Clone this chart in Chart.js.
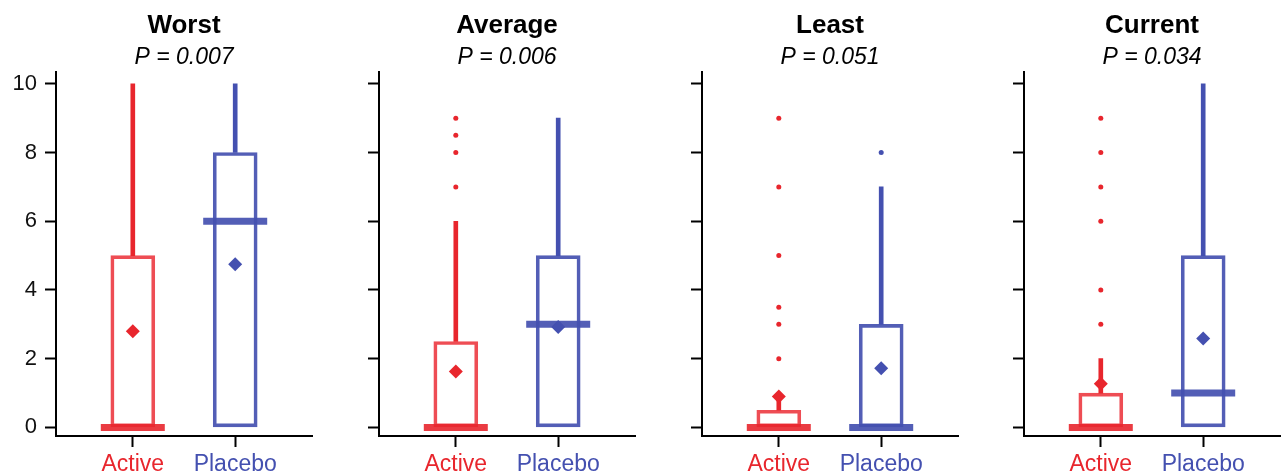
<!DOCTYPE html>
<html>
<head>
<meta charset="utf-8">
<script src="https://cdn.jsdelivr.net/npm/chart.js@4"></script>
<style>
  html, body { margin: 0; padding: 0; background: #fff; overflow: hidden; }
  #wrap { position: relative; width: 1281px; height: 474px; }
  canvas { position: absolute; top: 0; }
</style>
</head>
<body>
<div id="wrap"></div>
<script>
// Panel titles and p-values
const panelTitles = ['Worst', 'Average', 'Least', 'Current'];
const pLabels = ['P = 0.007', 'P = 0.006', 'P = 0.051', 'P = 0.034'];
const groups = ['Active', 'Placebo'];
const yTicks = [0, 2, 4, 6, 8, 10];

// Per panel: [Active, Placebo]
const boxLow = [[0, 0], [0, 0], [0, 0], [0, 0]];
const boxHigh = [[5, 8], [2.5, 5], [0.5, 3], [1, 5]];
const medians = [[0, 6], [0, 3], [0, 0], [0, 1]];
const whiskerHigh = [[10, 10], [6, 9], [1, 7], [2, 10]];
const means = [[2.8, 4.75], [1.63, 2.92], [0.9, 1.72], [1.27, 2.59]];
const activeOutliers = [[], [7, 8, 8.5, 9], [2, 3, 3.5, 5, 7, 9], [3, 4, 6, 7, 8, 9]];
const placeboOutliers = [[], [], [8], []];

const solid = ['#e8262d', '#4450b0'];
const boxLine = ['rgba(236, 52, 60, 0.88)', 'rgba(68, 80, 176, 0.92)'];
const medianLine = ['rgba(232, 38, 45, 0.9)', 'rgba(68, 80, 176, 0.92)'];
const FONT = "'Liberation Sans', Arial, sans-serif";

const panelLeft = [0, 323, 646, 968];

panelTitles.forEach((title, p) => {
    const canvas = document.createElement('canvas');
    canvas.width = 323;
    canvas.height = 474;
    canvas.style.left = panelLeft[p] + 'px';
    document.getElementById('wrap').appendChild(canvas);

    const outliers = [
        ...activeOutliers[p].map(v => ({ x: 0, y: v })),
        ...placeboOutliers[p].map(v => ({ x: 1, y: v }))
    ];
    const outlierColors = [
        ...activeOutliers[p].map(() => solid[0]),
        ...placeboOutliers[p].map(() => solid[1])
    ];

    new Chart(canvas.getContext('2d'), {
        data: {
            datasets: [
                {
                    // boxes (q1 - q3)
                    type: 'bar',
                    data: groups.map((g, i) => ({ x: i, y: [boxLow[p][i], boxHigh[p][i]] })),
                    grouped: false,
                    barThickness: 44,
                    backgroundColor: 'rgba(255,255,255,0)',
                    borderColor: boxLine,
                    borderWidth: 3,
                    borderSkipped: false,
                    order: 5
                },
                {
                    // upper whiskers
                    type: 'bar',
                    data: groups.map((g, i) => ({ x: i, y: [boxHigh[p][i], whiskerHigh[p][i]] })),
                    grouped: false,
                    barThickness: 4,
                    backgroundColor: solid,
                    borderWidth: 0,
                    order: 4
                },
                {
                    // medians
                    type: 'scatter',
                    data: groups.map((g, i) => ({ x: i, y: medians[p][i] })),
                    pointStyle: 'line',
                    pointRadius: 32,
                    pointHoverRadius: 32,
                    pointBorderWidth: 7,
                    pointBorderColor: medianLine,
                    order: 3
                },
                {
                    // means
                    type: 'scatter',
                    data: groups.map((g, i) => ({ x: i, y: means[p][i] })),
                    pointStyle: 'rectRot',
                    pointRadius: 7,
                    pointBorderWidth: 0,
                    pointBackgroundColor: solid,
                    order: 2
                },
                {
                    // outliers
                    type: 'scatter',
                    data: outliers,
                    pointRadius: 2.5,
                    pointBorderWidth: 0,
                    pointBackgroundColor: outlierColors,
                    order: 1
                }
            ]
        },
        options: {
            responsive: false,
            animation: false,
            devicePixelRatio: 1,
            layout: { autoPadding: false, padding: { right: 11 } },
            plugins: {
                legend: { display: false },
                tooltip: { enabled: false },
                title: {
                    display: true,
                    text: title,
                    fullSize: false,
                    color: '#000',
                    font: { family: FONT, size: 26, weight: 'bold' },
                    padding: { top: 10, bottom: 1 }
                },
                subtitle: {
                    display: true,
                    text: pLabels[p],
                    fullSize: false,
                    color: '#000',
                    font: { family: FONT, size: 23, style: 'italic' },
                    padding: { top: 2, bottom: 0 }
                }
            },
            scales: {
                x: {
                    type: 'linear',
                    min: -0.75,
                    max: 1.75,
                    offset: false,
                    afterBuildTicks: scale => { scale.ticks = groups.map((g, i) => ({ value: i })); },
                    afterFit: scale => {
                        scale.height = 38;
                        scale.paddingLeft = 0;
                        scale.paddingRight = 0;
                    },
                    grid: {
                        offset: false,
                        drawOnChartArea: false,
                        drawTicks: true,
                        tickLength: 11,
                        tickWidth: 2,
                        tickColor: '#000'
                    },
                    border: { display: true, color: '#000', width: 2 },
                    ticks: {
                        autoSkip: false,
                        maxRotation: 0,
                        padding: 4,
                        font: { family: FONT, size: 23 },
                        color: ctx => solid[ctx.index],
                        callback: v => groups[v]
                    }
                },
                y: {
                    min: -0.25,
                    max: 10.35,
                    afterBuildTicks: scale => { scale.ticks = yTicks.map(v => ({ value: v })); },
                    afterFit: scale => { scale.width = 56; },
                    grid: {
                        drawOnChartArea: false,
                        drawTicks: true,
                        tickLength: 11,
                        tickWidth: 2,
                        tickColor: '#000'
                    },
                    border: { display: true, color: '#000', width: 2 },
                    ticks: {
                        padding: 8,
                        color: '#111',
                        font: { family: FONT, size: 22 },
                        callback: v => (p === 0 ? String(v) : '')
                    }
                }
            }
        }
    });
});
</script>
</body>
</html>
